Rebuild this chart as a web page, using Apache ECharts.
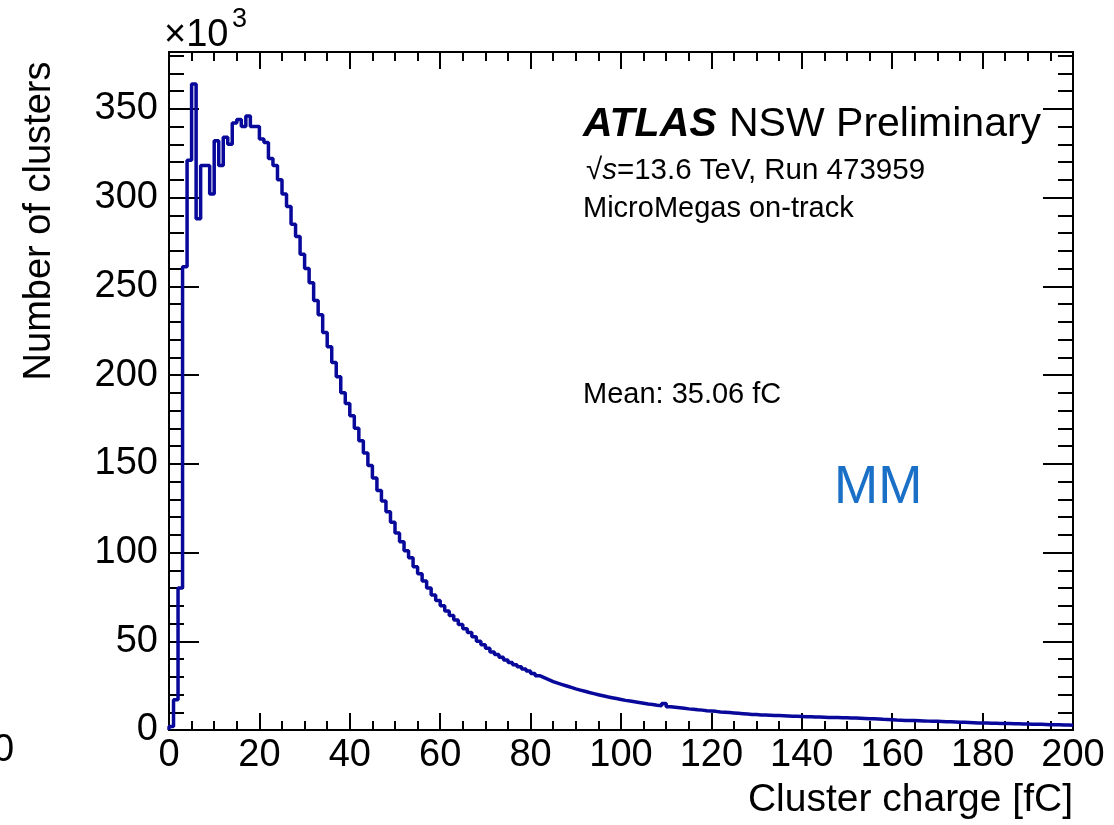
<!DOCTYPE html>
<html>
<head>
<meta charset="utf-8">
<script src="https://cdn.jsdelivr.net/npm/echarts@6/dist/echarts.min.js"></script>
<style>
html,body{margin:0;padding:0;background:#fff;}
#chart{width:1114px;height:825px;}
</style>
</head>
<body>
<div id="chart"></div>
<script>
// Histogram: cluster charge [fC], 1 fC bins from 0 to 200; counts in units of 10^3
const binWidth = 1;
const xMin = 0, xMax = 200;
const yMin = 0, yMax = 382;
const xTickStep = 20;
const yTickStep = 50;
const counts = [
  2, 17, 80, 261, 321, 364, 288, 318, 318, 302,
  332, 318, 334, 330, 342, 344, 340, 346, 340, 340,
  333, 331, 322, 318, 310, 302, 295, 285, 278, 268,
  260, 252, 242, 234, 224, 216, 207, 199, 190, 184,
  177, 170, 163, 156, 149, 142, 135, 129, 123, 117,
  111, 106, 101, 97, 92, 88, 84, 80, 76, 73,
  70, 67, 64.5, 62, 59.5, 57, 55, 52.5, 50, 48,
  46, 44, 42.5, 41, 39.5, 38, 36.8, 35.6, 34.4, 33.2,
  31.8, 30.6, 29.5, 28.4, 27.3, 26.4, 25.6, 24.8, 24, 23.2,
  22.5, 21.8, 21.1, 20.5, 19.9, 19.3, 18.7, 18.2, 17.7, 17.2,
  16.7, 16.3, 15.9, 15.5, 15.1, 14.7, 14.4, 14.0, 13.7, 15.0,
  13.1, 12.8, 12.5, 12.2, 11.9, 11.7, 11.4, 11.2, 10.9, 10.7,
  10.5, 10.2, 10.0, 9.8, 9.6, 9.4, 9.2, 9.0, 8.8, 8.7,
  8.5, 8.4, 8.3, 8.2, 8.1, 8.0, 7.9, 7.8, 7.7, 7.6,
  7.5, 7.4, 7.3, 7.3, 7.2, 7.1, 7.1, 7.0, 6.9, 6.9,
  6.8, 6.7, 6.6, 6.5, 6.4, 6.3, 6.2, 6.0, 5.9, 5.8,
  5.6, 5.5, 5.4, 5.3, 5.3, 5.2, 5.1, 5.0, 4.9, 4.9,
  4.8, 4.7, 4.6, 4.5, 4.4, 4.3, 4.2, 4.1, 4.0, 4.0,
  3.9, 3.8, 3.8, 3.7, 3.6, 3.6, 3.5, 3.5, 3.4, 3.4,
  3.3, 3.3, 3.2, 3.1, 3.0, 3.0, 2.9, 2.8, 2.8, 2.7
];
const xTitle = 'Cluster charge [fC]';
const yTitle = 'Number of clusters';
const yMultiplier = '×10';
const yMultiplierExp = '3';
const labelLines = ['√s=13.6 TeV, Run 473959', 'MicroMegas on-track'];
const meanText = 'Mean: 35.06 fC';
const tagText = 'MM';

// Step outline built from bin lower edges
const stepData = [[xMin, 0]];
counts.forEach((v, i) => stepData.push([xMin + i * binWidth, v]));
stepData.push([xMin + counts.length * binWidth, counts[counts.length - 1]]);

const FONT = '"Liberation Sans", Arial, Helvetica, sans-serif';
const BLACK = '#000';
const LINE = '#08089a';

function xAxisCfg(pos, labels) {
  return {
    type: 'value', position: pos, min: xMin, max: xMax, interval: xTickStep,
    axisLine: { show: true, onZero: false, lineStyle: { color: BLACK, width: 2 } },
    axisTick: { show: true, inside: true, length: 17, lineStyle: { color: BLACK, width: 2 } },
    minorTick: { show: true, splitNumber: 4, length: 9, lineStyle: { color: BLACK, width: 2 } },
    splitLine: { show: false }, minorSplitLine: { show: false },
    axisLabel: { show: labels, fontSize: 38, color: BLACK, fontFamily: FONT, margin: 7 }
  };
}
function yAxisCfg(pos, step, tickLen, labels) {
  return {
    type: 'value', position: pos, min: yMin, max: yMax, interval: step,
    axisLine: { show: true, onZero: false, lineStyle: { color: BLACK, width: 2 } },
    axisTick: { show: true, inside: true, length: tickLen, lineStyle: { color: BLACK, width: 2 } },
    splitLine: { show: false },
    axisLabel: {
      show: labels, fontSize: 38, color: BLACK, fontFamily: FONT, margin: 11,
      showMaxLabel: false,
      formatter: v => (v % yTickStep === 0 ? String(v) : '')
    }
  };
}

const chart = echarts.init(document.getElementById('chart'), null, { renderer: 'canvas' });
chart.setOption({
  animation: false,
  backgroundColor: '#fff',
  grid: { left: 169, right: 41, top: 52, bottom: 95, containLabel: false },
  xAxis: [xAxisCfg('bottom', true), xAxisCfg('top', false)],
  yAxis: [
    yAxisCfg('left', yTickStep, 30, true),
    yAxisCfg('left', 10, 15, false),
    yAxisCfg('right', yTickStep, 30, false),
    yAxisCfg('right', 10, 15, false)
  ],
  series: [{
    type: 'line', step: 'end', xAxisIndex: 0, yAxisIndex: 0,
    data: stepData, showSymbol: false, symbol: 'none',
    lineStyle: { color: LINE, width: 3.5 }, z: 5
  }],
  graphic: [
    { type: 'text', x: 40, y: 221, rotation: Math.PI / 2,
      style: { text: yTitle, font: '38px ' + FONT, fill: BLACK, align: 'center', verticalAlign: 'middle' } },
    { type: 'text', x: 1073, y: 800,
      style: { text: xTitle, font: '39px ' + FONT, fill: BLACK, align: 'right', verticalAlign: 'middle' } },
    { type: 'text', x: 164, y: 36,
      style: { text: yMultiplier, font: '38px ' + FONT, fill: BLACK, align: 'left', verticalAlign: 'middle' } },
    { type: 'text', x: 232, y: 20,
      style: { text: yMultiplierExp, font: '27px ' + FONT, fill: BLACK, align: 'left', verticalAlign: 'middle' } },
    { type: 'text', x: -7, y: 751,
      style: { text: '0', font: '38px ' + FONT, fill: BLACK, align: 'left', verticalAlign: 'middle' } },
    { type: 'text', x: 583, y: 125,
      style: { text: 'ATLAS', font: 'italic bold 41px ' + FONT, fill: BLACK, align: 'left', verticalAlign: 'middle' } },
    { type: 'text', x: 729, y: 125,
      style: { text: 'NSW Preliminary', font: '41px ' + FONT, fill: BLACK, align: 'left', verticalAlign: 'middle' } },
    { type: 'text', x: 586, y: 171,
      style: {
        text: '{r|√}{s|s}{n|' + labelLines[0].slice(2) + '}', align: 'left', verticalAlign: 'middle',
        rich: {
          r: { fontSize: 29.5, fontFamily: FONT, fill: BLACK },
          s: { fontSize: 29.5, fontStyle: 'italic', fontFamily: FONT, fill: BLACK },
          n: { fontSize: 29.5, fontFamily: FONT, fill: BLACK }
        }
      } },
    { type: 'text', x: 583, y: 209,
      style: { text: labelLines[1], font: '29px ' + FONT, fill: BLACK, align: 'left', verticalAlign: 'middle' } },
    { type: 'text', x: 583, y: 395,
      style: { text: meanText, font: '29px ' + FONT, fill: BLACK, align: 'left', verticalAlign: 'middle' } },
    { type: 'text', x: 834, y: 488,
      style: { text: tagText, font: '53px ' + FONT, fill: '#1a6fc6', align: 'left', verticalAlign: 'middle' } }
  ]
});
</script>
</body>
</html>
